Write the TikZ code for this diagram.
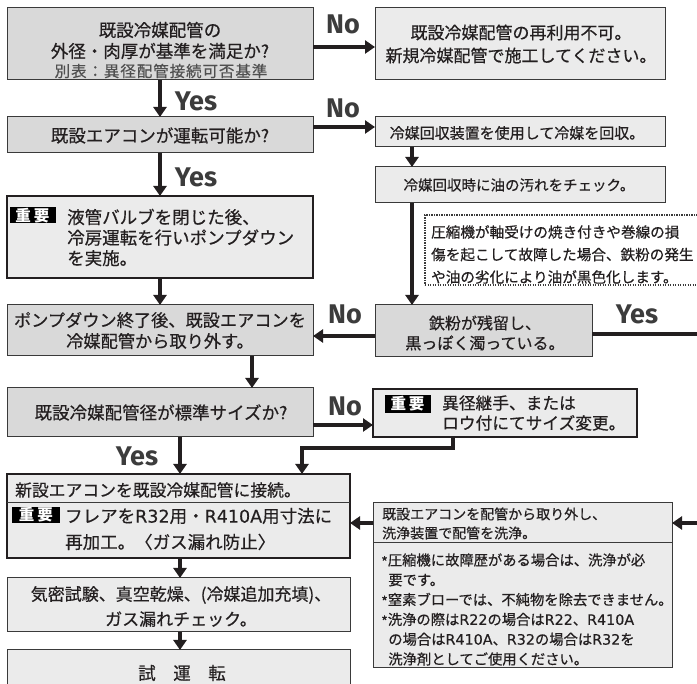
\documentclass[tikz,border=0pt]{standalone}
\usepackage{fontspec}
\setmainfont{Noto Sans CJK JP}[FakeBold=0.5]
\newfontfamily\keyfont{Noto Sans CJK JP}
\newfontfamily\ynfont{Fira Sans}
\newfontfamily\latw{DejaVu Sans}[FakeBold=0.3]
\newcommand{\lw}[1]{{\latw #1}}
\usetikzlibrary{arrows.meta}
\definecolor{ink}{HTML}{231F20}
\definecolor{boxline}{HTML}{3A3A3A}
\definecolor{decfill}{HTML}{D9D9D9}
\definecolor{actfill}{HTML}{EBEBEB}
\definecolor{ynclr}{HTML}{3C3C3C}
\definecolor{subclr}{HTML}{505050}
\tikzset{
  box/.style={draw=boxline, line width=1pt, inner sep=0pt, outer sep=0pt, anchor=north west},
  dec/.style={box, fill=decfill},
  act/.style={box, fill=actfill},
  heavy/.style={box, fill=actfill, draw=ink, line width=2.8pt},
  notebox/.style={draw=boxline, line width=1.2pt, dash pattern=on 1.2pt off 1.3pt, fill=white, inner sep=0pt, outer sep=0pt, anchor=north west},
  flow/.style={draw=ink, line width=4.5pt, -{Triangle[width=13pt,length=10pt]}},
  bar/.style={draw=ink, line width=4.5pt},
  divider/.style={draw=boxline, line width=1pt},
  yn/.style={font=\ynfont\bfseries\fontsize{27}{27}\selectfont, text=ynclr, inner sep=0pt},
  txt/.style={inner sep=0pt, align=center, text=ink, font=\fontsize{17.5}{21}\selectfont},
  ltxt/.style={inner sep=0pt, align=left, text=ink, anchor=west, font=\fontsize{17.5}{21}\selectfont},
  keybox/.style={fill=black, text=white, inner sep=0pt, font=\keyfont\bfseries\fontsize{15.5}{15.5}\selectfont, minimum width=46pt, minimum height=16pt},
}
\begin{document}
\begin{tikzpicture}[x=1pt,y=-1pt]
\useasboundingbox (0,0) rectangle (697,684);
\clip (0,0) rectangle (697,684);
% helper coordinates
\coordinate (c180) at (180,0);
\coordinate (c252) at (252,0);
\coordinate (c412) at (412,0);
\coordinate (y47) at (0,47);
\coordinate (y127) at (0,127);
\coordinate (y336) at (0,336);
\coordinate (y334) at (0,334);
\coordinate (y425) at (0,425);
\coordinate (y523) at (0,523);
\coordinate (k1) at (453,448);
\coordinate (k2) at (302,448);
\coordinate (rx1) at (702,334);
\coordinate (rx2) at (702,523);

% boxes
\node[dec, minimum width=306pt, minimum height=72pt] (b1) at (7,8) {};
\node[act, minimum width=290pt, minimum height=72pt] (n1) at (375,8) {};
\node[dec, minimum width=306pt, minimum height=36pt] (b2) at (7,117) {};
\node[act, minimum width=290pt, minimum height=30pt] (r1) at (375,117) {};
\node[act, minimum width=290pt, minimum height=36pt] (r2) at (375,167) {};
\node[notebox, minimum width=300pt, minimum height=70pt] (note) at (425,215) {};
\node[heavy, minimum width=306pt, minimum height=82pt] (b3) at (7,196) {};
\node[dec, minimum width=306pt, minimum height=51pt] (b4) at (7,305) {};
\node[dec, minimum width=217pt, minimum height=52pt] (iron) at (375,305) {};
\node[dec, minimum width=306pt, minimum height=49pt] (b5) at (7,388) {};
\node[heavy, minimum width=264pt, minimum height=48pt] (ikei) at (373,389) {};
\node[heavy, minimum width=343pt, minimum height=84pt] (b6) at (7,474) {};
\node[act, minimum width=299pt, minimum height=165pt] (clean) at (373,503) {};
\node[act, minimum width=343pt, minimum height=54pt] (b7) at (7,578) {};
\node[act, minimum width=343pt, minimum height=60pt] (b8) at (7,650) {};

% dividers
\draw[divider] (b6.west |- 0,503) -- (b6.east |- 0,503);
\draw[divider] (clean.west |- 0,543) -- (clean.east |- 0,543);

% texts
\node[txt] (t1) at (160,40.5) {既設冷媒配管の\\外径・肉厚が基準を満足か?};
\node[txt, text=subclr, font=\fontsize{15.5}{15}\selectfont\addfontfeature{LetterSpace=6}] (t1s) at (161,71) {別表：異径配管接続可否基準};
\node[txt, font=\fontsize{17}{23}\selectfont] (tn1) at (521,44) {既設冷媒配管の再利用不可。\\新規冷媒配管で施工してください。};
\node[txt] (t2) at (160,135.5) {既設エアコンが運転可能か?};
\node[txt, font=\fontsize{15}{15}\selectfont] (tr1) at (517,133) {冷媒回収装置を使用して冷媒を回収。};
\node[txt, font=\fontsize{14.5}{15}\selectfont] (tr2) at (519,185) {冷媒回収時に油の汚れをチェック。};
\node[ltxt, font=\fontsize{14.6}{22.5}\selectfont] (tnote) at (431,254.5) {圧縮機が軸受けの焼き付きや巻線の損\\傷を起こして故障した場合、鉄粉の発生\\や油の劣化により油が黒色化します。};
\node[keybox] (k3) at (32.5,215.5) {重\hspace{3pt}要};
\node[ltxt, font=\fontsize{17.5}{20.5}\selectfont] (t3) at (67,237.5) {液管バルブを閉じた後、\\冷房運転を行いポンプダウン\\を実施。};
\node[txt, font=\fontsize{17.2}{21}\selectfont] (t4) at (160,330.5) {ポンプダウン終了後、既設エアコンを\\冷媒配管から取り外す。};
\node[txt, font=\fontsize{16}{20}\selectfont] (tiron) at (485,333) {鉄粉が残留し、\\黒っぽく濁っている。};
\node[txt] (t5) at (161,412.5) {既設冷媒配管径が標準サイズか?};
\node[keybox, minimum height=18pt] (kk) at (407.5,404) {重\hspace{3pt}要};
\node[ltxt, font=\fontsize{16.7}{20}\selectfont] (tikei) at (442,413) {異径継手、または\\ロウ付にてサイズ変更。};
\node[ltxt, font=\fontsize{16.8}{20}\selectfont] (t6a) at (15,490) {新設エアコンを既設冷媒配管に接続。};
\node[keybox, minimum width=48pt] (k6) at (36,515) {重\hspace{3pt}要};
\node[ltxt, font=\fontsize{17.5}{26}\selectfont] (t6b) at (65,529) {フレアを\lw{R32}用・\lw{R410A}用寸法に\\再加工。〈ガス漏れ防止〉};
\node[txt, font=\fontsize{17}{25}\selectfont] (t7) at (181,606.5) {気密試験、真空乾燥、(冷媒追加充填)、\\ガス漏れチェック。};
\node[txt] (t8) at (182,673) {試　運　転};
\node[ltxt, font=\fontsize{14}{19}\selectfont] (tc1) at (382,523.5) {既設エアコンを配管から取り外し、\\洗浄装置で配管を洗浄。};
\node[ltxt, font=\fontsize{14.3}{19.8}\selectfont] (tc2) at (381,609.5) {\raisebox{-2pt}{*}圧縮機に故障歴がある場合は、洗浄が必\\\hspace*{0.5em}要です。\\\raisebox{-2pt}{*}窒素ブローでは、不純物を除去できません。\\\raisebox{-2pt}{*}洗浄の際は\lw{R22}の場合は\lw{R22}、\lw{R410A}\\\hspace*{0.5em}の場合は\lw{R410A}、\lw{R32}の場合は\lw{R32}を\\\hspace*{0.5em}洗浄剤としてご使用ください。};

% Yes / No labels
\node[yn] (no1) at (343,24) {No};
\node[yn] (no2) at (343,108) {No};
\node[yn] (no3) at (345,314) {No};
\node[yn] (no4) at (345,406) {No};
\node[yn] (yes1) at (196,101) {Yes};
\node[yn] (yes2) at (196,177) {Yes};
\node[yn] (yes3) at (637,314) {Yes};
\node[yn] (yes4) at (137,456) {Yes};

% connectors
\draw[flow] (b1.south) -- (b2.north);
\draw[flow] (b1.east |- y47) -- (n1.west |- y47);
\draw[flow] (b2.east |- y127) -- (r1.west |- y127);
\draw[flow] (r1.south -| c412) -- (r2.north -| c412);
\draw[flow] (b2.south) -- (b3.north);
\draw[flow] (r2.south -| c412) -- (iron.north -| c412);
\draw[flow] (b3.south) -- (b4.north);
\draw[flow] (iron.west |- y336) -- (b4.east |- y336);
\draw[bar] (iron.east |- y334) -- (rx1);
\draw[flow] (b4.south -| c252) -- (b5.north -| c252);
\draw[flow] (b5.east |- y425) -- (ikei.west |- y425);
\draw[flow] (b5.south -| c180) -- (b6.north -| c180);
\draw[flow] (ikei.south -| k1) -- (k1) -- (k2) -- (k2 |- b6.north);
\draw[flow] (rx2) -- (clean.east |- rx2);
\draw[flow] (clean.west |- y523) -- (b6.east |- y523);
\draw[flow] (b6.south -| c180) -- (b7.north -| c180);
\draw[flow] (b7.south -| c180) -- (b8.north -| c180);
\end{tikzpicture}
\end{document}
